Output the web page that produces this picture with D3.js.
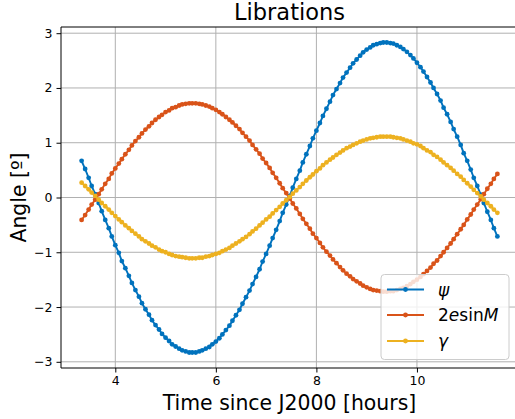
<!DOCTYPE html>
<html><head><meta charset="utf-8">
<script src="https://cdn.jsdelivr.net/npm/d3@7"></script>
<style>
html,body{margin:0;padding:0;background:#fff;}
svg{display:block;font-family:"DejaVu Sans",sans-serif;}
</style></head>
<body>
<svg id="chart" width="515" height="419"></svg>
<script>
const times = [3.33,3.40,3.47,3.53,3.60,3.67,3.73,3.80,3.87,3.93,
4.00,4.07,4.13,4.20,4.27,4.33,4.40,4.47,4.53,4.60,
4.67,4.73,4.80,4.87,4.93,5.00,5.07,5.13,5.20,5.27,
5.33,5.40,5.47,5.53,5.60,5.67,5.73,5.80,5.87,5.93,
6.00,6.07,6.13,6.20,6.27,6.33,6.40,6.47,6.53,6.60,
6.67,6.73,6.80,6.87,6.93,7.00,7.07,7.13,7.20,7.27,
7.33,7.40,7.47,7.53,7.60,7.67,7.73,7.80,7.87,7.93,
8.00,8.07,8.13,8.20,8.27,8.33,8.40,8.47,8.53,8.60,
8.67,8.73,8.80,8.87,8.93,9.00,9.07,9.13,9.20,9.27,
9.33,9.40,9.47,9.53,9.60,9.67,9.73,9.80,9.87,9.93,
10.00,10.07,10.13,10.20,10.27,10.33,10.40,10.47,10.53,10.60,
10.67,10.73,10.80,10.87,10.93,11.00,11.07,11.13,11.20,11.27,
11.33,11.40,11.47,11.53,11.60];

const psi = [0.67,0.52,0.36,0.21,0.06,-0.10,-0.25,-0.41,-0.56,-0.71,
-0.87,-1.01,-1.16,-1.29,-1.43,-1.56,-1.69,-1.81,-1.93,-2.04,
-2.14,-2.24,-2.33,-2.41,-2.49,-2.56,-2.62,-2.68,-2.72,-2.76,
-2.79,-2.81,-2.83,-2.83,-2.83,-2.81,-2.79,-2.76,-2.73,-2.68,
-2.63,-2.57,-2.50,-2.42,-2.34,-2.25,-2.15,-2.05,-1.94,-1.82,
-1.70,-1.58,-1.45,-1.31,-1.17,-1.03,-0.88,-0.74,-0.59,-0.43,
-0.28,-0.13,0.03,0.18,0.34,0.49,0.64,0.79,0.94,1.08,
1.22,1.36,1.49,1.62,1.75,1.87,1.98,2.09,2.19,2.28,
2.37,2.45,2.52,2.59,2.65,2.70,2.74,2.78,2.80,2.82,
2.83,2.83,2.82,2.81,2.78,2.75,2.71,2.66,2.60,2.54,
2.46,2.38,2.30,2.20,2.10,2.00,1.89,1.77,1.64,1.52,
1.38,1.25,1.11,0.96,0.81,0.67,0.51,0.36,0.21,0.05,
-0.10,-0.26,-0.41,-0.56,-0.71];

const esinM2 = [-0.41,-0.32,-0.22,-0.13,-0.04,0.06,0.15,0.25,0.34,0.44,
0.53,0.62,0.70,0.79,0.87,0.95,1.03,1.10,1.17,1.24,
1.30,1.36,1.42,1.47,1.51,1.56,1.59,1.63,1.65,1.68,
1.70,1.71,1.72,1.72,1.72,1.71,1.70,1.68,1.66,1.63,
1.60,1.56,1.52,1.47,1.42,1.37,1.31,1.25,1.18,1.11,
1.04,0.96,0.88,0.80,0.71,0.63,0.54,0.45,0.36,0.26,
0.17,0.08,-0.02,-0.11,-0.20,-0.30,-0.39,-0.48,-0.57,-0.66,
-0.74,-0.83,-0.91,-0.99,-1.06,-1.13,-1.20,-1.27,-1.33,-1.39,
-1.44,-1.49,-1.53,-1.57,-1.61,-1.64,-1.67,-1.69,-1.70,-1.71,
-1.72,-1.72,-1.71,-1.71,-1.69,-1.67,-1.65,-1.62,-1.58,-1.54,
-1.50,-1.45,-1.40,-1.34,-1.28,-1.21,-1.15,-1.07,-1.00,-0.92,
-0.84,-0.76,-0.67,-0.58,-0.50,-0.40,-0.31,-0.22,-0.13,-0.03,
0.06,0.16,0.25,0.34,0.43];

const gamma = [0.27,0.21,0.15,0.09,0.03,-0.04,-0.10,-0.16,-0.22,-0.28,
-0.34,-0.40,-0.45,-0.51,-0.56,-0.61,-0.66,-0.71,-0.76,-0.80,
-0.84,-0.88,-0.91,-0.95,-0.98,-1.00,-1.03,-1.05,-1.07,-1.08,
-1.09,-1.10,-1.11,-1.11,-1.11,-1.10,-1.10,-1.08,-1.07,-1.05,
-1.03,-1.01,-0.98,-0.95,-0.92,-0.88,-0.84,-0.80,-0.76,-0.72,
-0.67,-0.62,-0.57,-0.51,-0.46,-0.40,-0.35,-0.29,-0.23,-0.17,
-0.11,-0.05,0.01,0.07,0.13,0.19,0.25,0.31,0.37,0.42,
0.48,0.53,0.59,0.64,0.69,0.73,0.78,0.82,0.86,0.90,
0.93,0.96,0.99,1.02,1.04,1.06,1.08,1.09,1.10,1.11,
1.11,1.11,1.11,1.10,1.09,1.08,1.06,1.04,1.02,0.99,
0.97,0.94,0.90,0.86,0.83,0.78,0.74,0.69,0.64,0.59,
0.54,0.49,0.43,0.38,0.32,0.26,0.20,0.14,0.08,0.02,
-0.04,-0.10,-0.16,-0.22,-0.28];

const xTicks = [4, 6, 8, 10];
const yTicks = [-3, -2, -1, 0, 1, 2, 3];
const seriesNames = ["psi", "esinM", "gamma"];
const seriesColors = ["#0072BD", "#D95319", "#EDB120"];
const titleText = "Librations";
const xLabelText = "Time since J2000 [hours]";
const yLabelText = "Angle [º]";

const svg = d3.select("#chart");
const L = 61, R = 518, T = 27, B = 368;
const x = d3.scaleLinear().domain([2.92, 12.01]).range([L, R]);
const y = d3.scaleLinear().domain([-3.113, 3.113]).range([B, T]);

const seriesVals = [psi, esinM2, gamma];

svg.append("defs").append("clipPath").attr("id","clip")
  .append("rect").attr("x",L).attr("y",T).attr("width",R-L).attr("height",B-T);

const grid = svg.append("g");
grid.selectAll(".gx").data(xTicks).enter().append("line")
  .attr("x1",d=>x(d)).attr("x2",d=>x(d)).attr("y1",T).attr("y2",B)
  .attr("stroke","#b0b0b0").attr("stroke-width",1);
grid.selectAll(".gy").data(yTicks).enter().append("line")
  .attr("x1",L).attr("x2",R).attr("y1",d=>y(d)).attr("y2",d=>y(d))
  .attr("stroke","#b0b0b0").attr("stroke-width",1);

const plot = svg.append("g").attr("clip-path","url(#clip)");
seriesVals.forEach((vals,i)=>{
  const pts = times.map((t,j)=>[t, vals[j]]);
  const line = d3.line().x(d=>x(d[0])).y(d=>y(d[1]));
  plot.append("path").datum(pts).attr("d",line).attr("fill","none")
    .attr("stroke",seriesColors[i]).attr("stroke-width",1.9).attr("stroke-linejoin","round");
  plot.append("g").selectAll("circle").data(pts).enter().append("circle")
    .attr("cx",d=>x(d[0])).attr("cy",d=>y(d[1])).attr("r",2.4).attr("fill",seriesColors[i]);
});

const xAxis = d3.axisBottom(x).tickValues(xTicks).tickSize(4.5).tickPadding(4).tickFormat(d3.format("d"));
const gx = svg.append("g").attr("transform",`translate(0,${B})`).call(xAxis);
gx.select(".domain").remove();
const yAxis = d3.axisLeft(y).tickValues(yTicks).tickSize(4.5).tickPadding(4).tickFormat(d3.format("d"));
const gy = svg.append("g").attr("transform",`translate(${L},0)`).call(yAxis);
gy.select(".domain").remove();
svg.selectAll(".tick text").attr("font-family","DejaVu Sans").attr("font-size","12.5px").attr("fill","#000");
svg.selectAll(".tick line").attr("stroke","#000").attr("stroke-width",1);

svg.append("line").attr("x1",L).attr("x2",L).attr("y1",T).attr("y2",B).attr("stroke","#000").attr("stroke-width",1);
svg.append("line").attr("x1",L).attr("x2",R).attr("y1",B).attr("y2",B).attr("stroke","#000").attr("stroke-width",1);
svg.append("line").attr("x1",L).attr("x2",R).attr("y1",T).attr("y2",T).attr("stroke","#000").attr("stroke-width",1);
svg.append("line").attr("x1",R).attr("x2",R).attr("y1",T).attr("y2",B).attr("stroke","#000").attr("stroke-width",1);

svg.append("text").attr("x",(L+R)/2).attr("y",19.5).attr("text-anchor","middle")
  .attr("font-size","22.5px").text(titleText);
svg.append("text").attr("x",(L+R)/2).attr("y",410).attr("text-anchor","middle")
  .attr("font-size","20.4px").text(xLabelText);
svg.append("text").attr("transform",`translate(26,${(T+B)/2}) rotate(-90)`).attr("text-anchor","middle")
  .attr("font-size","20.4px").text(yLabelText);

const lg = svg.append("g");
lg.append("rect").attr("x",381).attr("y",274.5).attr("width",128).attr("height",85).attr("rx",3.5)
  .attr("fill","rgba(255,255,255,0.8)").attr("stroke","#cccccc").attr("stroke-width",1);
const rowsY = [289.5, 315, 341];
seriesNames.forEach((n,i)=>{
  lg.append("line").attr("x1",387).attr("x2",424).attr("y1",rowsY[i]).attr("y2",rowsY[i])
    .attr("stroke",seriesColors[i]).attr("stroke-width",1.9);
  lg.append("circle").attr("cx",405.5).attr("cy",rowsY[i]).attr("r",2.4).attr("fill",seriesColors[i]);
  const t = lg.append("text").attr("x",438).attr("y",rowsY[i]+6).attr("font-size","17px");
  if (n==="psi") t.append("tspan").attr("font-style","italic").text("ψ");
  else if (n==="gamma") t.append("tspan").attr("font-style","italic").text("γ");
  else {
    t.append("tspan").text("2");
    t.append("tspan").attr("font-style","italic").text("e");
    t.append("tspan").text("sin");
    t.append("tspan").attr("font-style","italic").text("M");
  }
});
</script>
</body></html>
